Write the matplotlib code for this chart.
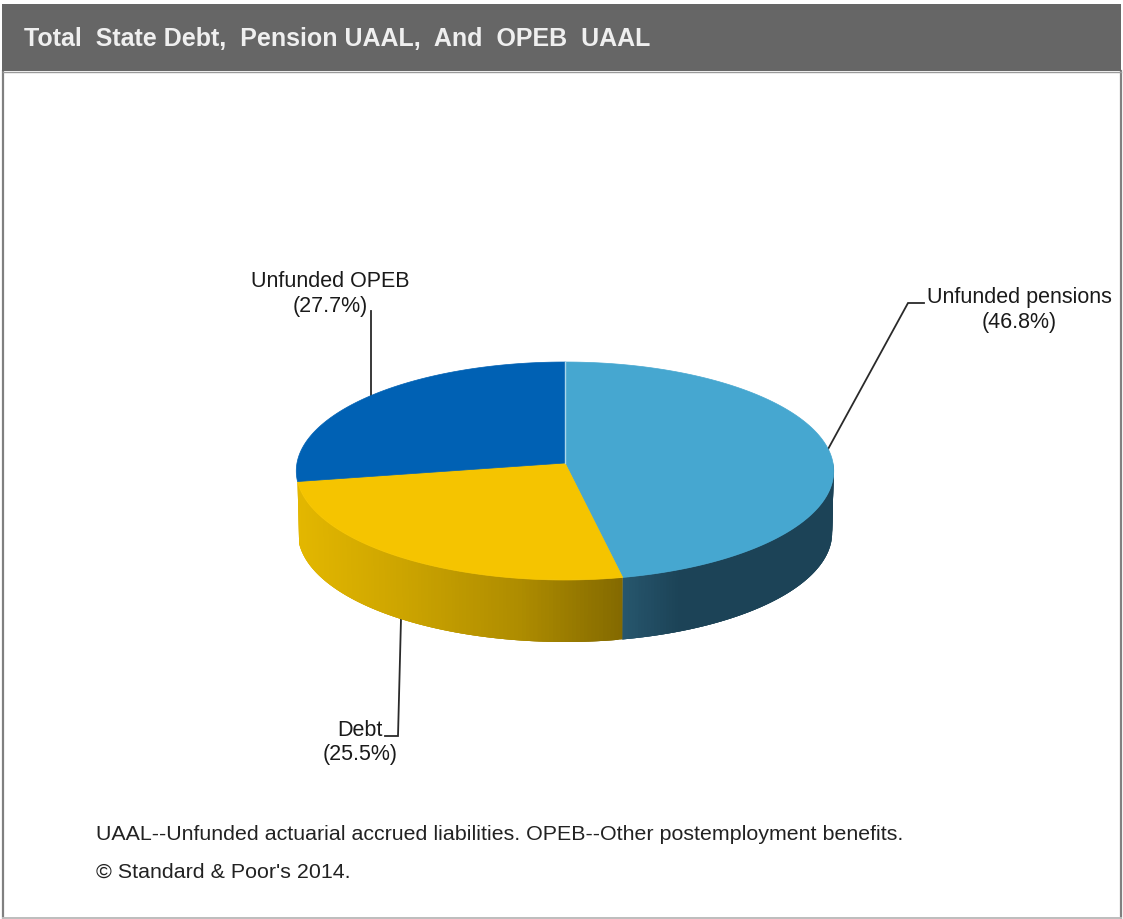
import numpy as np
import matplotlib
matplotlib.use("Agg")
import matplotlib.pyplot as plt
from matplotlib.patches import Polygon, Rectangle
from matplotlib.colors import to_rgb

# Chart content
title = "Total  State Debt,  Pension UAAL,  And  OPEB  UAAL"
categories = ["Unfunded pensions", "Debt", "Unfunded OPEB"]
shares = [46.8, 25.5, 27.7]
top_colors = ["#46A7D0", "#F5C400", "#0061B4"]
# side-wall shading: (screen x, colour) stops for each visible wall
wall_stops = {
    0: [(621, "#27576E"), (680, "#1C4357"), (833, "#1C4357")],
    1: [(298, "#E3B700"), (400, "#CDA500"), (520, "#AE8C00"), (621, "#846A00")],
}
footnotes = ["UAAL--Unfunded actuarial accrued liabilities. OPEB--Other postemployment benefits.",
             "\u00a9 Standard & Poor's 2014."]

W, H = 1123, 920
plt.rcParams["font.family"] = ["Liberation Sans"]
fig = plt.figure(figsize=(W / 100, H / 100), dpi=100, facecolor="white")
ax = fig.add_axes([0, 0, 1, 1])
ax.set_xlim(0, W)
ax.set_ylim(H, 0)
ax.axis("off")

# Panel frame and header band
ax.plot([3, 3], [72, 919], color="#808080", lw=1.6, zorder=1)
ax.plot([1120.5, 1120.5], [72, 919], color="#808080", lw=1.6, zorder=1)
ax.plot([3, 1121], [918.7, 918.7], color="#BDBDBD", lw=1.4, zorder=1)
ax.add_patch(Rectangle((2, 5), 1119, 67, fc="#666666", ec="none", zorder=2))
ax.plot([3, 1121], [72.5, 72.5], color="#9A9A9A", lw=1.0, zorder=2)
ax.text(24, 39.5, title, color="#EFEFEF", fontsize=18, fontweight="bold", va="center", ha="left", zorder=3)

# Perspective view of the pie: angles run clockwise from twelve o'clock
CX, CY, RX, RY, TILT, DEPTH, TAPER = 565, 464, 268, 108.4, 0.0734, 62, 0.994


def project(theta, radius=1.0):
    u, v = radius * np.sin(theta), radius * np.cos(theta)
    d = 1 + TILT * v
    return CX + RX * u / d, CY - RY * v / d


edges = np.concatenate([[0], np.cumsum(shares)]) / sum(shares) * 2 * np.pi


def wall_color(stops, x):
    xs = [s[0] for s in stops]
    rgb = np.array([to_rgb(s[1]) for s in stops])
    return tuple(np.interp(x, xs, rgb[:, i]) for i in range(3))


# Side walls are built from overlapping strips so the shading runs left to right
for i, stops in wall_stops.items():
    a0, a1 = max(edges[i], np.pi / 2), min(edges[i + 1], 3 * np.pi / 2 + 0.01)
    grid = np.linspace(a0, a1, 120)
    for k in range(len(grid) - 1):
        seg = grid[k:min(k + 4, len(grid))]
        xs, ys = project(seg)
        c = wall_color(stops, xs[:2].mean())
        low_x = CX + (xs - CX) * TAPER
        pts = np.column_stack([np.r_[xs, low_x[::-1]], np.r_[ys, ys[::-1] + DEPTH]])
        ax.add_patch(Polygon(pts, fc=c, ec="none", lw=0, zorder=4))

# Top faces
for i, color in enumerate(top_colors):
    t = np.linspace(edges[i], edges[i + 1], 200)
    xs, ys = project(t)
    pts = np.column_stack([np.r_[CX, xs], np.r_[CY, ys]])
    ax.add_patch(Polygon(pts, fc=color, ec=color, lw=0.5, zorder=5))
ax.plot([CX, CX], [363, CY], color="#A9D6EA", lw=1.0, zorder=6)

# Leader lines
leaders = [([827, 908, 924], [452, 304, 304]),
           ([401, 398, 385], [620, 737, 737]),
           ([371, 371], [398, 312])]
for xs, ys in leaders:
    ax.plot(xs, ys, color="#2A2A2A", lw=1.3, solid_joinstyle="miter", zorder=3)

# Slice labels
label_xy = [(1019, 310), (360, 742.5), (330, 294)]
for name, share, (x, y) in zip(categories, shares, label_xy):
    ax.text(x, y, f"{name}\n({share}%)", ha="center", va="center", fontsize=15.5,
            color="#1A1A1A", linespacing=1.2, zorder=7)

# Footnotes
ax.text(96, 835, footnotes[0], fontsize=15.4, color="#222222", va="center", ha="left", zorder=7)
ax.text(96, 872, footnotes[1], fontsize=15.4, color="#222222", va="center", ha="left", zorder=7)

fig.savefig("out.png", dpi=100)
